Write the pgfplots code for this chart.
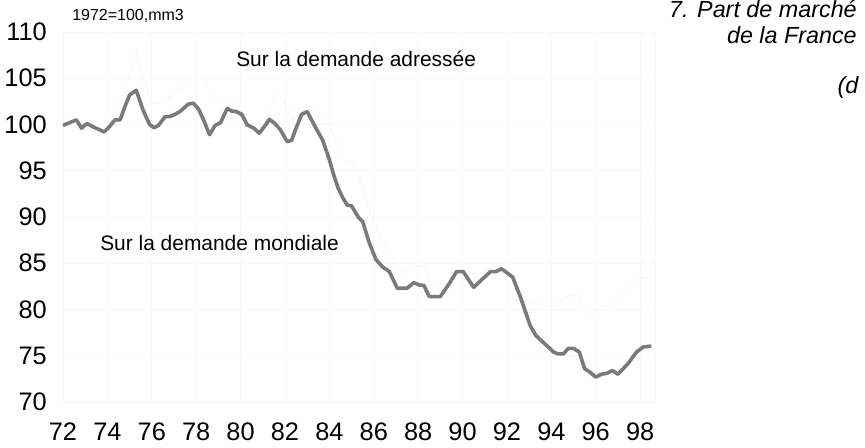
\documentclass[border=0pt]{standalone}
\usepackage{fontspec}
\setmainfont{Liberation Sans}
\usepackage{pgfplots}
\pgfplotsset{compat=1.18}
\definecolor{mainline}{RGB}{122,122,122}
\definecolor{faint}{RGB}{247,247,247}
\definecolor{gridc}{RGB}{248,248,248}
\begin{document}
\begin{tikzpicture}
\path[use as bounding box] (0pt,0pt) rectangle (648.75pt,-335.25pt);
\begin{axis}[
  at={(47.25pt,-301.5pt)}, anchor=south west,
  scale only axis, width=444pt, height=277.5pt,
  xmin=72, xmax=98.67, ymin=70, ymax=110,
  xtick={72,74,...,98}, ytick={70,75,...,110},
  xticklabels={72,74,76,78,80,82,84,86,88,90,92,94,96,98},
  grid=major, major grid style={gridc, line width=0.6pt},
  axis line style={draw=gridc},
  major tick length=0pt,
  /pgf/number format/assume math mode=true,
  ticklabel style={font=\fontsize{19}{22}\selectfont},
  yticklabel style={anchor=east, inner sep=0pt, xshift=-12pt},
  xticklabel style={anchor=north, inner sep=0pt, yshift=-15.5pt},
  clip=false,
]
\addplot[faint, line width=0.7pt] coordinates {
(72.0,100.0)(72.5,100.3)(73.0,99.5)(73.5,99.0)(74.0,99.6)(74.5,101.9)(75.0,105.5)(75.3,107.7)(75.6,105.0)(76.0,102.3)(76.5,102.3)(77.0,103.4)(77.5,104.2)(78.0,105.4)(78.4,104.5)(78.8,103.0)(79.3,102.8)(79.8,102.6)(80.3,100.5)(80.8,99.4)(81.0,99.3)(81.6,103.5)(82.0,102.3)(82.3,100.5)(82.7,101.2)(83.0,102.1)(83.3,101.2)(83.7,100.5)(84.0,99.9)(84.6,96.2)(85.0,96.0)(85.4,94.0)(85.8,90.8)(86.2,88.3)(86.8,85.7)(87.2,84.0)(87.5,84.2)(87.85,84.8)(88.3,84.6)(88.5,82.9)(89.0,82.4)(89.5,83.3)(90.0,84.5)(90.5,83.0)(91.0,83.5)(91.5,84.3)(92.0,84.5)(92.3,83.6)(92.6,81.0)(93.2,80.7)(94.1,80.3)(94.7,81.4)(95.2,81.6)(95.5,80.0)(95.9,79.4)(96.3,80.3)(96.9,80.7)(97.5,82.1)(98.0,83.4)(98.4,83.5)
};
\addplot[mainline, line width=2.7pt, line join=round] coordinates {
(72.0,99.9)(72.3,100.2)(72.6,100.5)(72.84,99.6)(73.07,100.1)(73.4,99.7)(73.86,99.2)(74.1,99.8)(74.34,100.5)(74.57,100.5)(74.8,102.0)(75.0,103.2)(75.3,103.7)(75.6,101.6)(75.9,100.0)(76.1,99.65)(76.3,99.9)(76.6,100.85)(76.8,100.85)(77.05,101.1)(77.27,101.4)(77.64,102.2)(77.87,102.3)(78.1,101.7)(78.35,100.4)(78.6,98.9)(78.85,99.9)(79.1,100.2)(79.4,101.75)(79.6,101.46)(79.8,101.4)(80.05,101.1)(80.3,99.95)(80.6,99.6)(80.84,99.05)(81.05,99.7)(81.3,100.56)(81.55,100.1)(81.8,99.4)(82.1,98.14)(82.3,98.3)(82.5,99.6)(82.75,101.1)(83.0,101.4)(83.35,99.8)(83.7,98.3)(84.0,96.2)(84.2,94.5)(84.4,93.1)(84.6,92.1)(84.8,91.3)(85.0,91.2)(85.3,90.0)(85.5,89.5)(85.8,87.2)(86.1,85.4)(86.4,84.6)(86.7,84.1)(87.06,82.3)(87.5,82.3)(87.8,82.9)(88.05,82.65)(88.26,82.6)(88.5,81.4)(89.0,81.4)(89.4,82.8)(89.73,84.1)(90.03,84.1)(90.5,82.4)(90.9,83.3)(91.26,84.1)(91.5,84.1)(91.76,84.4)(92.26,83.5)(92.6,81.4)(93.04,78.3)(93.3,77.2)(93.7,76.3)(94.1,75.4)(94.3,75.2)(94.55,75.2)(94.76,75.8)(95.0,75.8)(95.26,75.4)(95.5,73.6)(95.7,73.3)(96.0,72.7)(96.26,73.0)(96.5,73.1)(96.75,73.4)(97.0,73.0)(97.47,74.2)(97.84,75.4)(98.14,75.95)(98.5,76.05)
};
\end{axis}
\node[anchor=base west, inner sep=0pt, font=\fontsize{12}{14}\selectfont] at (54pt,-15pt) {1972=100,mm3};
\node[anchor=base west, inner sep=0pt, font=\fontsize{15.7}{18}\selectfont] at (177pt,-49.5pt) {Sur la demande adressée};
\node[anchor=base west, inner sep=0pt, font=\fontsize{15.7}{18}\selectfont] at (75pt,-187.5pt) {Sur la demande mondiale};
\node[anchor=base east, inner sep=0pt, font=\fontsize{17.5}{20}\itshape] at (642.75pt,-13pt) {7. Part de marché};
\node[anchor=base east, inner sep=0pt, font=\fontsize{17.5}{20}\itshape] at (642.75pt,-32.5pt) {de la France};
\node[anchor=base east, inner sep=0pt, font=\fontsize{17.5}{20}\itshape] at (644pt,-70pt) {(d};
\end{tikzpicture}
\end{document}
